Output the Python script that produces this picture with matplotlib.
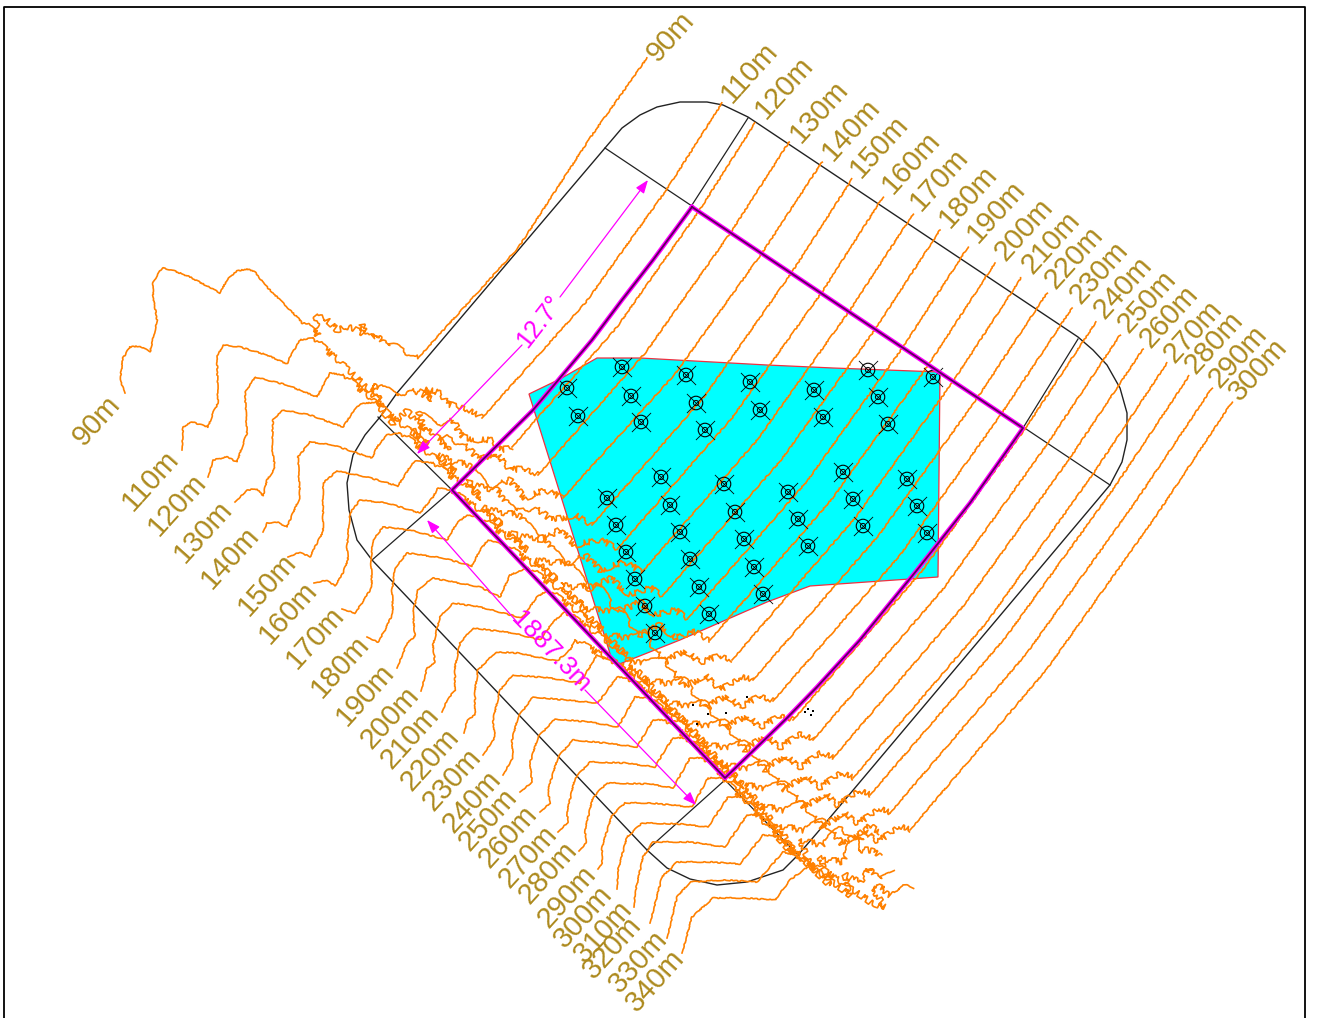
import matplotlib
matplotlib.use('Agg')
import matplotlib.pyplot as plt

# everything in pixel units, y goes down
frame_x = [4, 4, 1305, 1305]
frame_y = [1018, 7, 7, 1018]

site_outline = [(397,393),(605,148),(622,128),(640,115),(657,107),(680,102),(707,102),(723,105),(748,117),
                (1078,337),(1093,350),(1107,365),(1120,388),(1127,413),(1127,440),(1122,462),(1110,485),
                (817,833),(798,855),(783,870),(747,882),(717,885),(690,879),(667,868),(647,850),
                (372,560),(357,540),(349,510),(347,483),(353,455),(365,435),(380,417),(397,393)]
site_inner = [[(605,148),(1110,485)], [(748,118),(692,205)], [(1078,339),(1023,428)],
              [(378,417),(452,490)], [(372,560),(452,490)], [(725,780),(647,850)], [(725,780),(798,855)]]

boundary = [(692,207),(1023,428),(970,503),(917,570),(860,640),(817,687),(787,718),(725,778),(452,490),
            (533,410),(592,340),(622,300),(653,260),(692,207)]

cyan_area = [(529,394),(560,379),(597,358),(640,358),(767,365),(833,368),(940,372),(938,577),(810,586),
             (767,602),(728,619),(680,640),(617,665),(612,660)]

marker_x = [622,686,750,814,868,933,567,631,696,760,823,878,888,578,641,705,661,724,788,843,907,
            607,670,735,798,853,917,616,680,744,808,863,927,626,690,754,635,699,763,645,709,655]
marker_y = [367,375,382,390,370,377,388,396,403,410,417,397,424,416,422,430,477,484,492,472,479,
            498,505,512,519,499,506,525,532,539,546,526,533,552,559,567,579,587,594,606,614,633]

speck_x = [811,808,805,708,697,693,747,726,813]
speck_y = [715,709,712,714,724,705,697,713,711]

c90 = [(125,393),(120,380),(123,358),(130,347),(140,346),(150,352),(155,330),(157,320),(153,295),(153,282),
       (162,268),(172,270),(190,277),(220,293),(227,280),(237,271),(247,269),(255,272),(265,285),(300,320),
       (318,335),(316,317),(325,318),(337,330),(345,327),(352,328),(362,333),(362,325),(372,338),(378,335),
       (388,347),(395,346),(418,358),(518,248),(590,138),(647,58)]
c110 = [(182,450),(183,427),(192,422),(208,427),(213,413),(218,403),(217,357),(223,345),(240,347),(267,355),
        (287,364),(290,357),(300,340),(313,338),(340,362),(367,388),(383,407),(372,385),(385,388),(397,397),
        (407,390),(420,392),(432,400),(424,389),(440,393),(448,404),(463,407),(482,418),(586,302),(667,189),(722,103)]
c120 = [(208,477),(213,460),(227,457),(237,462),(242,447),(247,433),(245,393),(255,377),(287,385),(317,397),
        (330,373),(343,375),(370,397),(393,423),(407,411),(425,430),(418,412),(435,424),(453,420),(462,437),
        (480,440),(492,440),(500,450),(512,447),(617,327),(699,211),(755,123)]
c130 = [(235,502),(247,490),(257,489),(263,496),(267,480),(275,468),(272,447),(273,420),(283,410),(310,415),
        (343,427),(353,412),(360,404),(377,402),(387,413),(428,445),(412,432),(430,430),(450,450),(445,437),
        (465,445),(480,460),(495,452),(510,470),(525,468),(538,475),(646,352),(731,232),(789,142)]
c140 = [(263,532),(267,523),(277,522),(287,527),(293,513),(300,497),(298,457),(310,442),(333,445),(372,458),
        (377,447),(387,435),(400,433),(455,472),(438,455),(455,462),(470,465),(487,487),(510,480),(525,498),
        (545,490),(563,498),(675,374),(762,253),(822,162)]
c150 = [(288,557),(300,552),(310,557),(317,543),(323,532),(323,483),(337,471),(367,477),(398,486),(410,467),
        (415,461),(433,463),(482,498),(465,482),(482,487),(497,490),(515,512),(535,507),(552,520),(575,515),
        (592,525),(704,397),(792,272),(852,179)]
c160 = [(314,583),(327,580),(335,586),(342,575),(348,560),(347,547),(350,513),(360,500),(387,503),(420,513),
        (433,497),(438,488),(450,490),(502,525),(483,508),(500,512),(520,515),(540,540),(560,530),(575,545),
        (600,540),(618,548),(732,418),(822,292),(883,197)]
c170 = [(342,609),(355,613),(362,603),(372,587),(371,560),(373,540),(383,527),(410,530),(447,540),(457,523),
        (467,515),(480,518),(527,550),(508,533),(525,537),(545,538),(565,565),(585,555),(600,570),(625,562),
        (642,572),(758,439),(850,310),(913,214)]
c180 = [(367,637),(378,642),(385,630),(393,613),(392,590),(395,568),(407,553),(443,558),(472,566),(480,550),
        (488,540),(505,545),(557,580),(535,560),(552,562),(570,563),(590,590),(610,578),(630,595),(650,588),
        (663,595),(782,459),(876,328),(940,230)]
c190 = [(397,668),(407,643),(415,637),(413,613),(418,590),(432,578),(480,587),(500,597),(510,575),(528,568),
        (582,605),(560,585),(577,587),(598,585),(618,612),(640,602),(655,615),(675,610),(688,618),(808,480),
        (903,347),(968,247)]
c200 = [(421,691),(427,668),(435,663),(433,645),(440,617),(453,603),(480,607),(522,618),(537,597),(548,590),
        (602,630),(580,607),(598,610),(620,610),(640,635),(660,625),(675,638),(695,632),(710,640),(832,499),
        (929,364),(995,263)]
c210 = [(442,712),(447,700),(455,690),(455,667),(460,643),(473,628),(513,633),(540,640),(553,622),(565,612),
        (627,655),(605,635),(622,637),(645,635),(665,662),(685,650),(700,663),(720,655),(732,660),(856,517),
        (954,380),(1021,278)]
c220 = [(464,733),(467,720),(475,715),(475,690),(478,670),(496,652),(517,653),(557,661),(570,650),(575,640),
        (647,680),(625,660),(643,662),(665,660),(685,687),(705,675),(720,690),(740,677),(753,680),(879,535),
        (978,397),(1047,293)]
c230 = [(483,755),(495,737),(493,720),(500,690),(513,675),(550,678),(580,683),(597,655),(610,660),(667,702),
        (645,680),(665,683),(685,680),(705,708),(727,695),(740,708),(760,695),(773,701),(901,554),(1002,413),(1072,308)]
c240 = [(503,775),(513,757),(512,740),(518,717),(533,697),(565,700),(598,703),(617,677),(627,678),(687,723),
        (665,703),(685,705),(705,703),(725,728),(747,715),(760,728),(780,715),(793,720),(922,571),(1025,429),(1096,322)]
c250 = [(520,792),(532,782),(530,763),(538,737),(555,719),(590,722),(618,727),(635,697),(648,698),(707,745),
        (686,723),(705,725),(725,722),(745,750),(765,735),(780,748),(800,733),(813,740),(944,588),(1048,443),(1120,335)]
c260 = [(540,812),(550,803),(548,790),(558,757),(573,740),(605,743),(637,747),(653,720),(665,720),(725,767),
        (705,745),(725,747),(745,743),(765,770),(785,755),(800,768),(820,752),(833,758),(965,604),(1070,458),(1143,349)]
c270 = [(558,832),(568,822),(567,812),(575,778),(590,762),(625,763),(655,767),(665,750),(673,738),(685,738),
        (745,787),(725,765),(745,768),(765,763),(785,790),(805,775),(820,788),(840,772),(853,778),(987,622),(1093,474),(1167,363)]
c280 = [(579,851),(586,843),(585,830),(593,797),(607,783),(650,784),(673,788),(690,758),(703,758),(763,809),
        (744,785),(765,788),(785,783),(805,808),(825,793),(838,806),(858,790),(870,795),(1006,637),(1114,488),(1189,376)]
c290 = [(598,869),(602,863),(602,847),(612,815),(625,803),(650,803),(692,807),(708,778),(722,778),(778,831),
        (762,806),(783,810),(803,803),(823,828),(843,812),(858,824),(878,808),(890,813),(1027,653),(1136,501),(1212,388)]
c300 = [(617,889),(618,870),(627,837),(642,823),(680,824),(708,827),(728,797),(742,797),(792,853),(780,826),
        (803,830),(823,820),(843,845),(863,830),(878,842),(898,826),(910,830),(1047,669),(1156,516),(1232,402)]
c310 = [(634,907),(635,893),(643,857),(653,842),(690,842),(725,847),(747,815),(760,815),(812,868),(800,840),
        (822,845),(840,828),(855,838),(870,826),(880,832)]
c320 = [(650,923),(662,877),(677,862),(710,862),(740,864),(763,835),(777,836),(830,885),(820,858),(842,862),
        (850,845),(863,838),(858,850),(872,850),(880,857)]
c330 = [(667,938),(677,897),(690,882),(725,880),(757,882),(783,852),(795,855),(850,895),(845,875),(860,882),
        (870,868),(880,880),(895,872)]
c340 = [(682,953),(692,917),(713,898),(745,898),(775,900),(790,880),(813,863),(875,905),(885,907),(872,888),
        (880,887),(890,895),(900,892),(905,887),(913,890)]

contours = [c90, c110, c120, c130, c140, c150, c160, c170, c180, c190, c200, c210, c220, c230, c240, c250,
            c260, c270, c280, c290, c300, c310, c320, c330, c340]

# where each contour enters the steep band
band_from = [(300,320),(313,338),(343,375),(377,402),(400,433),(433,463),(450,490),(480,518),(505,545),(528,568),
             (548,590),(565,612),(575,640),(610,660),(627,678),(648,698),(665,720),(685,738),(703,758),(722,778),
             (742,797),(760,815),(777,836),(795,855),(813,863)]

west_names = ['90m','110m','120m','130m','140m','150m','160m','170m','180m','190m','200m','210m','220m',
              '230m','240m','250m','260m','270m','280m','290m','300m','310m','320m','330m','340m']
west_x = [97,150,177,203,230,267,288,315,340,365,390,410,430,452,472,488,508,528,548,567,583,603,612,638,655]
west_y = [421,480,505,532,558,585,613,638,667,695,718,738,760,780,802,820,837,857,873,897,917,932,948,962,981]

east_names = ['90m','110m','120m','130m','140m','150m','160m','170m','180m','190m','200m','210m','220m',
              '230m','240m','250m','260m','270m','280m','290m','300m']
east_x = [671,749,784,819,851,879,911,939,968,996,1024,1051,1074,1099,1123,1147,1169,1193,1214,1238,1258]
east_y = [37,72,88,112,130,147,163,180,197,212,230,243,258,273,288,302,317,332,343,357,370]

angle_tip = (648,180)
angle_gap = [(522,345),(560,297)]
angle_end = (417,454)
length_tip = (696,805)
length_gap = [(517,622),(585,690)]
length_end = (427,520)

orange = '#FF8000'
gold = '#AD8A1E'
magenta = '#FF00FF'

plt.rcParams['font.family'] = ['Liberation Sans', 'DejaVu Sans']

fig = plt.figure(figsize=(13.38, 10.18), dpi=100)
ax = fig.add_axes([0, 0, 1, 1])
ax.set_xlim(0, 1338)
ax.set_ylim(1018, 0)
ax.axis('off')

ax.plot(frame_x, frame_y, color='black', lw=1.3, zorder=1)

ax.fill(*zip(*cyan_area), facecolor='#00FFFF', edgecolor='#F03040', lw=0.9, zorder=2)

ax.plot(*zip(*site_outline), color='#222222', lw=1.0, zorder=3)
for seg in site_inner:
    ax.plot(*zip(*seg), color='#222222', lw=0.9, zorder=3)

for line, start in zip(contours, band_from):
    i = line.index(start)
    # contours up to 300m finish with a long run up to their label, the last ones stop in the band
    j = len(line) - 3 if line[-1][1] < 500 else len(line)
    for part in (line[:i + 1], line[j - 1:]):
        l, = ax.plot(*zip(*part), color=orange, lw=1.2, zorder=4)
        l.set_sketch_params(scale=0.5, length=7, randomness=20)
    # the steep band is a lot rougher
    l, = ax.plot(*zip(*line[i:j]), color=orange, lw=1.2, zorder=4)
    l.set_sketch_params(scale=3, length=22, randomness=30)

ax.scatter(marker_x, marker_y, s=95, facecolors='none', edgecolors='black', linewidths=0.8, zorder=5)
ax.scatter(marker_x, marker_y, s=190, marker='x', color='black', linewidths=0.6, zorder=5)
ax.scatter(marker_x, marker_y, s=14, facecolors='none', edgecolors='black', linewidths=0.7, zorder=5)
ax.scatter(speck_x, speck_y, s=4, color='black', marker='s', zorder=5, linewidths=0)

ax.plot(*zip(*boundary), color=magenta, lw=3.2, zorder=6)
ax.plot(*zip(*boundary), color='#5A005A', lw=1.3, zorder=7)

arrow = dict(arrowstyle='-|>,head_width=0.3,head_length=0.8', color=magenta, lw=0.9, shrinkA=0, shrinkB=0)
ax.annotate('', xy=angle_tip, xytext=angle_gap[1], arrowprops=arrow, zorder=8)
ax.annotate('', xy=angle_end, xytext=angle_gap[0], arrowprops=arrow, zorder=8)
ax.annotate('', xy=length_tip, xytext=length_gap[1], arrowprops=arrow, zorder=8)
ax.annotate('', xy=length_end, xytext=length_gap[0], arrowprops=arrow, zorder=8)
ax.text(540, 322, '12.7°', color=magenta, fontsize=18, rotation=52, ha='center', va='center',
        rotation_mode='anchor', zorder=8)
ax.text(551, 652, '1887.3m', color=magenta, fontsize=19, rotation=-46, ha='center', va='center',
        rotation_mode='anchor', zorder=8)

for name, x, y in zip(west_names, west_x, west_y):
    ax.text(x, y, name, color=gold, fontsize=21, rotation=48, ha='center', va='center',
            rotation_mode='anchor', zorder=9)
for name, x, y in zip(east_names, east_x, east_y):
    ax.text(x, y, name, color=gold, fontsize=21, rotation=48, ha='center', va='center',
            rotation_mode='anchor', zorder=9)

fig.savefig('out.png', dpi=100, facecolor='white')
